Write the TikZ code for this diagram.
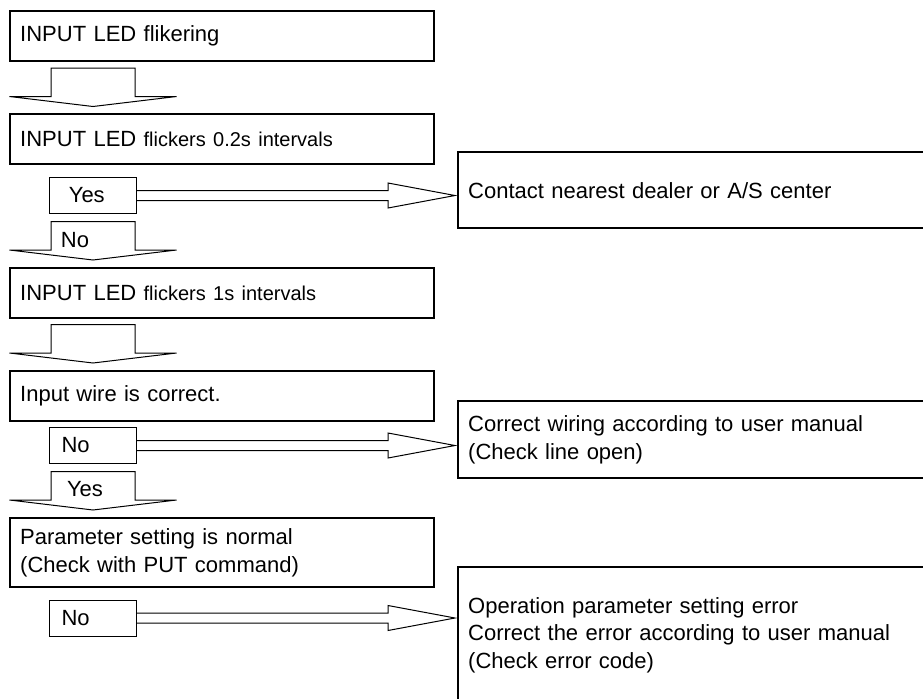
\documentclass[tikz,border=0pt]{standalone}
\usepackage{fontspec}
\setmainfont{Liberation Sans}
\usetikzlibrary{positioning,calc}
\newcommand{\blockdown}[1]{%
  \draw[blk] #1 -- ++(-83.5,-10) -- ++(41.5,0) -- ++(0,-28.5) -- ++(84,0) -- ++(0,28.5) -- ++(41.5,0) -- cycle;}
\newcommand{\blockright}[2]{%
  \draw[blk] ($(#1.east)+(0,-5)$) -- ($(#2.west|-#1.east)+(-69,-5)$) -- ++(0,-7.5)
    -- ($(#2.west|-#1.east)+(-2,0)$) -- ($(#2.west|-#1.east)+(-69,12.5)$) -- ++(0,-7.5)
    -- ($(#1.east)+(0,5)$);}
\newcommand{\smalltxt}{\fontsize{10}{12}\selectfont}

\begin{document}
\begin{tikzpicture}[
  x=0.5pt,y=-0.5pt,
  box/.style={draw,line width=1.2pt,anchor=north west,text width=202pt,inner xsep=5pt,
    minimum height=25pt,align=left,font=\fontsize{11}{13.7}\selectfont},
  rbox/.style={box,text width=230pt},
  dec/.style={draw,line width=0.5pt,anchor=north west,text width=31.5pt,inner xsep=6pt,
    minimum height=18pt,align=left,font=\fontsize{11}{13.7}\selectfont},
  lbl/.style={anchor=west,inner sep=0pt,font=\fontsize{11}{13.7}\selectfont},
  blk/.style={draw,line width=0.5pt,line join=miter}
]
\useasboundingbox (0,0) rectangle (923,698);
\clip (0,0) rectangle (923,698);
\node[box] (led) at (9,10) {INPUT LED flikering};
\node[box] (fast) at (9,113) {INPUT LED {\smalltxt flickers 0.2s intervals}};
\node[dec] (d1) at (49,177) {~Yes};
\node[rbox,minimum height=38pt] (dealer) at (457,151) {Contact nearest dealer or A/S center};
\node[box] (slow) at (9,267) {INPUT LED {\smalltxt flickers 1s intervals}};
\node[box] (wire) at (9,370) {Input wire is correct.};
\node[dec] (d2) at (49,427) {No};
\node[rbox,minimum height=38.5pt] (rewire) at (457,400) {Correct wiring according to user manual\\(Check line open)};
\node[box,minimum height=34.5pt] (param) at (9,517) {Parameter setting is normal\\(Check with PUT command)};
\node[dec] (d3) at (49,599.5) {No};
\node[rbox,minimum height=68pt] (perr) at (457,566) {Operation parameter setting error\\Correct the error according to user manual\\(Check error code)};
\node[lbl] (no1) at ($(slow.north west)+(51.5,-26.5)$) {No};
\node[lbl] (yes2) at ($(param.north west)+(51.5,-27.5)$) {~Yes};
\blockdown{($(fast.north west)+(84,-6.5)$)}
\blockdown{($(slow.north west)+(84,-7)$)}
\blockdown{($(wire.north west)+(84,-7)$)}
\blockdown{($(param.north west)+(84,-7)$)}
\blockright{d1}{dealer}
\blockright{d2}{rewire}
\blockright{d3}{perr}
\end{tikzpicture}
\end{document}
